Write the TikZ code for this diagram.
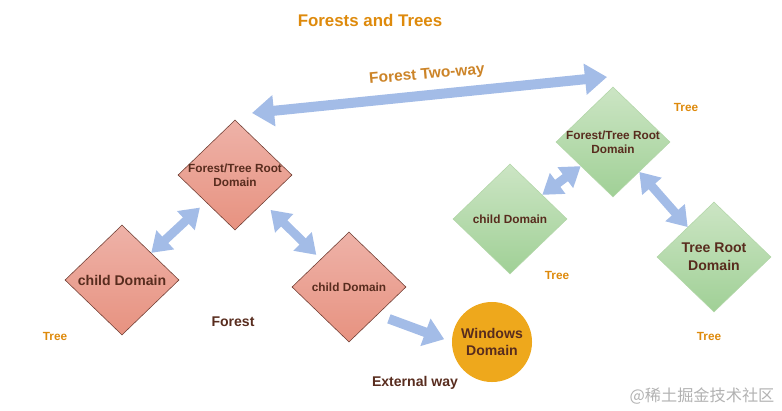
\documentclass[tikz,border=0pt]{standalone}
\usepackage{fontspec}
\setsansfont{Liberation Sans}
\newfontfamily\cjkfont{Noto Sans CJK SC}
\usetikzlibrary{positioning,shapes.geometric,arrows.meta}

\definecolor{domtext}{RGB}{88,44,30}
\definecolor{treeorange}{RGB}{222,138,12}
\definecolor{arrowblue}{RGB}{163,188,231}

\begin{document}
\begin{tikzpicture}[x=0.025cm, y=-0.025cm,
        red_domain/.style={diamond, draw={rgb,255:red,110;green,60;blue,50}, thin, top color={rgb,255:red,238;green,178;blue,168}, bottom color={rgb,255:red,231;green,146;blue,128}, minimum width=2.85cm, minimum height=2.75cm, inner sep=0pt},
        green_domain/.style={diamond, draw={rgb,255:red,178;green,214;blue,168}, thin, top color={rgb,255:red,204;green,229;blue,196}, bottom color={rgb,255:red,160;green,208;blue,150}, minimum width=2.85cm, minimum height=2.75cm, inner sep=0pt},
        small_text/.style={text=domtext, align=center, font=\sffamily\bfseries\fontsize{8.4}{10}\selectfont},
        big_text/.style={text=domtext, align=center, font=\sffamily\bfseries\fontsize{10}{13}\selectfont},
        tree_text/.style={text=treeorange, font=\sffamily\bfseries\fontsize{8.4}{10}\selectfont},
        link_arrow/.style={draw=arrowblue, line width=0.22cm, {Triangle[width=0.62cm,length=0.48cm]}-{Triangle[width=0.62cm,length=0.48cm]}},
        way_arrow/.style={draw=arrowblue, line width=0.24cm, -{Triangle[width=0.7cm,length=0.5cm]}}
        ]
            \useasboundingbox (0,0) rectangle (782,410);

            % Title
            \node[text=treeorange, font=\sffamily\bfseries\fontsize{12}{14}\selectfont] (title) at (370,20) {Forests and Trees};

            % Forest (left)
            \node[red_domain, label={[small_text]center:{Forest/Tree Root\\Domain}}] (rootL)  at (235,175) {};
            \node[red_domain, label={[big_text]center:child Domain}]               (childL) at (122,280) {};
            \node[red_domain, label={[small_text]center:child Domain}]             (childR) at (349,287) {};
            % Tree (right)
            \node[green_domain, label={[small_text]center:{Forest/Tree Root\\Domain}}] (rootR)  at (613,142) {};
            \node[green_domain, label={[small_text]center:child Domain}]             (childG) at (510,219) {};
            \node[green_domain, label={[big_text]center:{Tree Root\\Domain}}]        (treeR)  at (714,257) {};
            % external
            \node[circle, fill={rgb,255:red,238;green,168;blue,28}, minimum size=2cm, inner sep=0pt, big_text, font=\sffamily\bfseries\fontsize{10}{12}\selectfont] (win) at (492,342) {Windows\\Domain};

            % Arrows
            \coordinate (twL) at (252,113);
            \coordinate (twR) at (607,77);
            \draw[link_arrow, line width=0.25cm, {Triangle[width=0.75cm,length=0.55cm]}-{Triangle[width=0.75cm,length=0.55cm]}] (twL) -- (twR);
            \draw[link_arrow, shorten <=0.2cm] (rootL) -- (childL);
            \draw[link_arrow, shorten <=0.25cm, shorten >=0.15cm] (rootL) -- (childR);
            \draw[link_arrow] (rootR) -- (childG);
            \draw[link_arrow] (rootR) -- (treeR);
            \draw[way_arrow, shorten <=0.3cm, shorten >=0.2cm] (childR.south east) -- (win.west);

            % text
            \node[text={rgb,255:red,204;green,132;blue,40}, font=\sffamily\bfseries\fontsize{11}{13}\selectfont, rotate=5] (twText) at (427,75) {Forest Two-way};
            \node[big_text] (forestText) at (233,322) {Forest};
            \node[big_text] (extText)    at (415,383) {External way};
            \node[tree_text] (tree1) at (686,107) {Tree};
            \node[tree_text] (tree2) at (557,275) {Tree};
            \node[tree_text] (tree3) at (55,336)  {Tree};
            \node[tree_text] (tree4) at (709,336) {Tree};
            % watermark
            \node[text=black!30, font=\cjkfont\fontsize{11.5}{13}\selectfont] (mark) at (702,396) {@稀土掘金技术社区};
        \end{tikzpicture}
\end{document}
